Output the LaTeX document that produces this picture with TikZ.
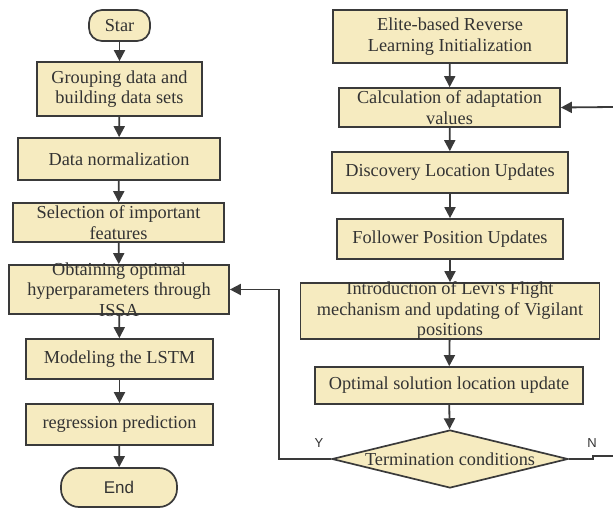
\documentclass[tikz,border=0pt]{standalone}
\usepackage{fontspec}
\setmainfont{Liberation Serif}
\newfontfamily\arialf{Liberation Sans}
\usetikzlibrary{arrows.meta,shapes.geometric}
\definecolor{boxfill}{HTML}{F6EBC0}
\definecolor{edgec}{HTML}{3A3A3A}
\definecolor{txtc}{HTML}{333333}
\begin{document}
\begin{tikzpicture}[x=1pt,y=-1pt,
 box/.style={draw=edgec,fill=boxfill,line width=1.7pt,inner sep=0pt},
 txt/.style={text=txtc,align=center,font=\fontsize{18.3}{20.5}\selectfont,inner sep=0pt},
 arr/.style={draw=edgec,line width=1.8pt,-{Triangle[length=11pt,width=11pt]}},
 ln/.style={draw=edgec,line width=1.5pt},
 lab/.style={text=txtc,font=\arialf\fontsize{13}{15}\selectfont,inner sep=0pt}]
\useasboundingbox (0,0) rectangle (613,508);
% left column
\node[box,rounded corners=13pt,minimum width=61pt,minimum height=31pt] (s) at (119.5,25.5) {};
\node[box,minimum width=165pt,minimum height=54pt] (g1) at (119.5,89) {};
\node[box,minimum width=202pt,minimum height=42pt] (g2) at (119,159) {};
\node[box,minimum width=211pt,minimum height=39pt] (g3) at (118.5,222.5) {};
\node[box,minimum width=220pt,minimum height=49pt] (g4) at (119,289.5) {};
\node[box,minimum width=187pt,minimum height=40pt] (g5) at (119.5,359) {};
\node[box,minimum width=187pt,minimum height=41pt] (g6) at (119.5,424.5) {};
\node[box,rounded corners=18pt,minimum width=116pt,minimum height=39pt] (e) at (119,487.5) {};
% right column
\node[box,minimum width=234pt,minimum height=53pt] (r1) at (450,36.5) {};
\node[box,minimum width=221pt,minimum height=39pt] (r2) at (449.5,107.5) {};
\node[box,minimum width=236pt,minimum height=41pt] (r3) at (450,172.5) {};
\node[box,minimum width=226pt,minimum height=40pt] (r4) at (450,239) {};
\node[box,minimum width=299pt,minimum height=56pt] (r5) at (450,311) {};
\node[box,minimum width=268pt,minimum height=37pt] (r6) at (449,385.5) {};
\node[box,diamond,minimum width=236pt,minimum height=58pt] (d) at (450,459) {};
% texts
\node[txt] (ts) at (s) {Star};
\node[txt] (t1) at (g1) {Grouping data and\\building data sets};
\node[txt] (t2) at (g2) {Data normalization};
\node[txt] (t3) at (g3) {Selection of important\\features};
\node[txt] (t4) at (g4) {Obtaining optimal\\hyperparameters through\\ISSA};
\node[txt] (t5) at (g5) {Modeling the LSTM};
\node[txt] (t6) at (g6) {regression prediction};
\node[txt,font=\arialf\fontsize{17}{20}\selectfont] (te) at (e) {End};
\node[txt] (u1) at (r1) {Elite-based Reverse\\Learning Initialization};
\node[txt] (u2) at (r2) {Calculation of adaptation\\values};
\node[txt] (u3) at (r3) {Discovery Location Updates};
\node[txt] (u4) at (r4) {Follower Position Updates};
\node[txt] (u5) at (r5) {Introduction of Levi\textquotesingle s Flight\\mechanism and updating of Vigilant\\positions};
\node[txt] (u6) at (r6) {Optimal solution location update};
\node[txt] (ud) at (d) {Termination conditions};
% connectors
\draw[arr] (s) -- (g1);
\draw[arr] (g1) -- (g2);
\draw[arr] (g2) -- (g3);
\draw[arr] (g3) -- (g4);
\draw[arr] (g4) -- (g5);
\draw[arr] (g5) -- (g6);
\draw[arr] (g6) -- (e);
\draw[arr] (r1) -- (r2);
\draw[arr] (r2) -- (r3);
\draw[arr] (r3) -- (r4);
\draw[arr] (r4) -- (r5);
\draw[arr] (r5) -- (r6);
\draw[arr] (r6) -- (d);
\coordinate (yc) at (279,459);
\draw[arr] (d.west) -- (yc) |- (g4.east);
\coordinate (nend) at (613,456);
\draw[ln] (d.east) -- (593,459) -- (593,456) -- (nend);
\coordinate (nin) at (613,107);
\draw[arr] (nin) -- (r2.east);
\node[lab] (ly) at (319,443) {Y};
\node[lab] (ln) at (592,443) {N};
\end{tikzpicture}
\end{document}
